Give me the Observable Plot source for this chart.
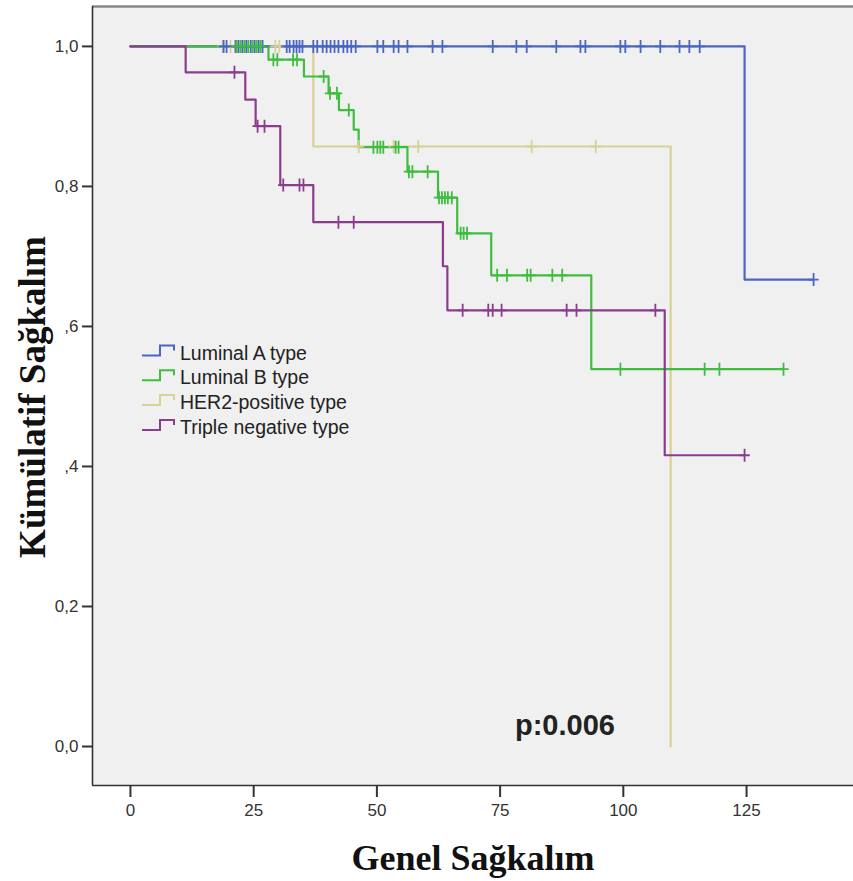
<!DOCTYPE html>
<html><head><meta charset="utf-8">
<script src="https://cdn.jsdelivr.net/npm/d3@7"></script>
<script src="https://cdn.jsdelivr.net/npm/@observablehq/plot@0.6"></script>
<style>
body{margin:0;background:#fff}
#chart{position:relative;width:853px;height:881px}
</style>
</head><body><div id="chart"></div>
<script>
// ---- data (months, cumulative survival) ----
const groups = ["Luminal A type", "Luminal B type", "HER2-positive type", "Triple negative type"];
const colors = ["#4a66c2", "#3fbd3f", "#d8d197", "#8b3c8f"];

const lumA_eventTimes = [124.6];
const lumA_survival   = [0.667];
const lumA_lastFollowUp = 138.6;
const lumA_censored = [18.9, 19.5, 21.3, 21.9, 22.7, 23.5, 24.4, 25.2, 26.0, 26.8,
  31.7, 32.3, 33.1, 33.7, 34.3, 34.9, 37.1, 37.9, 39.0, 39.8, 40.6, 41.4, 42.2, 43.2, 44.0, 44.8, 45.7,
  50.1, 51.3, 53.4, 54.4, 56.2, 61.3, 63.3, 73.5, 78.3, 80.4, 86.4, 91.3, 92.3, 99.4, 100.4,
  103.5, 107.5, 111.4, 113.4, 115.5, 138.6];

const lumB_eventTimes = [28.0, 35.2, 40.2, 42.3, 45.3, 46.3, 56.2, 62.4, 66.3, 73.2, 93.5];
const lumB_survival   = [0.981, 0.957, 0.933, 0.909, 0.881, 0.856, 0.821, 0.784, 0.733, 0.673, 0.539];
const lumB_lastFollowUp = 132.5;
const lumB_censored = [21.5, 22.3, 23.1, 23.9, 24.8, 25.6, 26.4,
  29.0, 29.8, 33.0, 33.8, 39.2, 40.5, 41.9, 44.3,
  49.3, 50.1, 50.7, 51.3, 53.8, 54.4, 56.5, 57.2, 60.3,
  62.6, 63.2, 63.8, 64.4, 65.2, 67.0, 67.6, 68.3,
  74.4, 76.4, 80.5, 81.2, 85.6, 87.6, 99.4, 116.5, 119.5, 132.5];

const her2_eventTimes = [37.1, 109.6];
const her2_survival   = [0.857, 0.0];
const her2_lastFollowUp = 109.6;
const her2_censored = [18.7, 20.3, 29.4, 30.2, 46.3, 53.4, 58.4, 81.4, 94.4];

const tneg_eventTimes = [11.2, 23.3, 25.4, 30.4, 37.1, 63.4, 64.3, 108.4];
const tneg_survival   = [0.963, 0.924, 0.886, 0.802, 0.749, 0.686, 0.623, 0.416];
const tneg_lastFollowUp = 124.6;
const tneg_censored = [21.1, 25.8, 27.2, 31.0, 34.3, 35.1, 42.2, 45.3,
  67.4, 72.6, 73.5, 75.3, 88.5, 90.5, 106.5, 124.6];

const xTicks = [0, 25, 50, 75, 100, 125];
const xTickLabels = ["0", "25", "50", "75", "100", "125"];
const yTicks = [0, 0.2, 0.4, 0.6, 0.8, 1.0];
const yTickLabels = ["0,0", "0,2", ",4", ",6", "0,8", "1,0"];
const xDomain = [-7.7, 146.7];
const yDomain = [-0.0557, 1.057];
const pValueText = "p:0.006";
const xTitle = "Genel Sağkalım";
const yTitle = "Kümülatif Sağkalım";

// ---- build tables ----
const series = [
  {group: groups[0], times: lumA_eventTimes, surv: lumA_survival, end: lumA_lastFollowUp, cens: lumA_censored},
  {group: groups[1], times: lumB_eventTimes, surv: lumB_survival, end: lumB_lastFollowUp, cens: lumB_censored},
  {group: groups[2], times: her2_eventTimes, surv: her2_survival, end: her2_lastFollowUp, cens: her2_censored},
  {group: groups[3], times: tneg_eventTimes, surv: tneg_survival, end: tneg_lastFollowUp, cens: tneg_censored}
];
function survAt(s, t) { let v = 1; s.times.forEach((et, i) => { if (et <= t) v = s.surv[i]; }); return v; }
const drawOrder = [2, 0, 1, 3];
const curvePts = [];
const censorPts = [];
drawOrder.forEach(k => {
  const s = series[k];
  curvePts.push({group: s.group, t: 0, s: 1});
  s.times.forEach((t, i) => curvePts.push({group: s.group, t, s: s.surv[i]}));
  curvePts.push({group: s.group, t: s.end, s: survAt(s, s.end)});
});
drawOrder.forEach(k => {
  const s = series[k];
  s.cens.forEach(t => censorPts.push({group: s.group, t, s: survAt(s, t)}));
});

const censorSymbol = {
  draw(context, size) {
    const r = Math.sqrt(size / Math.PI);
    context.moveTo(0, -r); context.lineTo(0, r);
    context.moveTo(-r * 0.8, 0); context.lineTo(r * 0.8, 0);
  }
};

const svg = Plot.plot({
  width: 853, height: 881,
  marginLeft: 92, marginRight: 0, marginTop: 6, marginBottom: 96,
  style: {fontFamily: "'Liberation Sans', Arial, sans-serif", background: "#fff", overflow: "visible"},
  x: {domain: xDomain},
  y: {domain: yDomain},
  color: {domain: groups, range: colors},
  marks: [
    Plot.frame({fill: "#f0f0f0", stroke: null}),
    Plot.line(curvePts, {x: "t", y: "s", z: "group", stroke: "group", curve: "step-after", strokeWidth: 2.2}),
    Plot.dot(censorPts, {x: "t", y: "s", stroke: "group", symbol: censorSymbol, r: 6.5, strokeWidth: 1.8}),
    Plot.ruleY([yDomain[1]], {stroke: "#888", strokeWidth: 2.5}),
    Plot.ruleY([yDomain[0]], {stroke: "#333", strokeWidth: 1.6}),
    Plot.ruleX([xDomain[0]], {stroke: "#333", strokeWidth: 1.6}),
    Plot.axisX({ticks: xTicks, tickFormat: d => xTickLabels[xTicks.indexOf(d)], tickSize: 12, tickPadding: 6,
      fontSize: 17, label: null, stroke: "#333", strokeWidth: 2, fill: "#333"}),
    Plot.axisY({ticks: yTicks, tickFormat: d => yTickLabels[yTicks.indexOf(d)], tickSize: 10, tickPadding: 4,
      fontSize: 17, label: null, stroke: "#333", strokeWidth: 2, fill: "#333"})
  ]
});

const root = d3.select(svg);
// legend
const lg = root.append("g").attr("text-anchor", "start");
groups.forEach((g, i) => {
  const y = 352.5 + i * 24.8;
  lg.append("path").attr("d", `M142,${y + 3}H160V${y - 7}H174V${y - 2}`)
    .attr("fill", "none").attr("stroke", colors[i]).attr("stroke-width", 2);
  lg.append("text").attr("x", 180).attr("y", y).attr("dy", "0.36em").attr("text-anchor", "start")
    .attr("font-size", 19.5).attr("fill", "#222").text(g);
});
// p value
root.append("text").attr("x", 515).attr("y", 735).attr("text-anchor", "start")
  .attr("font-size", 29).attr("font-weight", "bold").attr("fill", "#222").text(pValueText);
// axis titles
root.append("text").attr("x", 473).attr("y", 870).attr("text-anchor", "middle")
  .attr("font-family", "'Liberation Serif', 'Times New Roman', serif").attr("font-weight", "bold")
  .attr("font-size", 36).attr("fill", "#111").text(xTitle);
root.append("text").attr("transform", "translate(45,397) rotate(-90)").attr("text-anchor", "middle")
  .attr("font-family", "'Liberation Serif', 'Times New Roman', serif").attr("font-weight", "bold")
  .attr("font-size", 37).attr("fill", "#111").text(yTitle);

document.getElementById("chart").appendChild(svg);
</script>
</body></html>
